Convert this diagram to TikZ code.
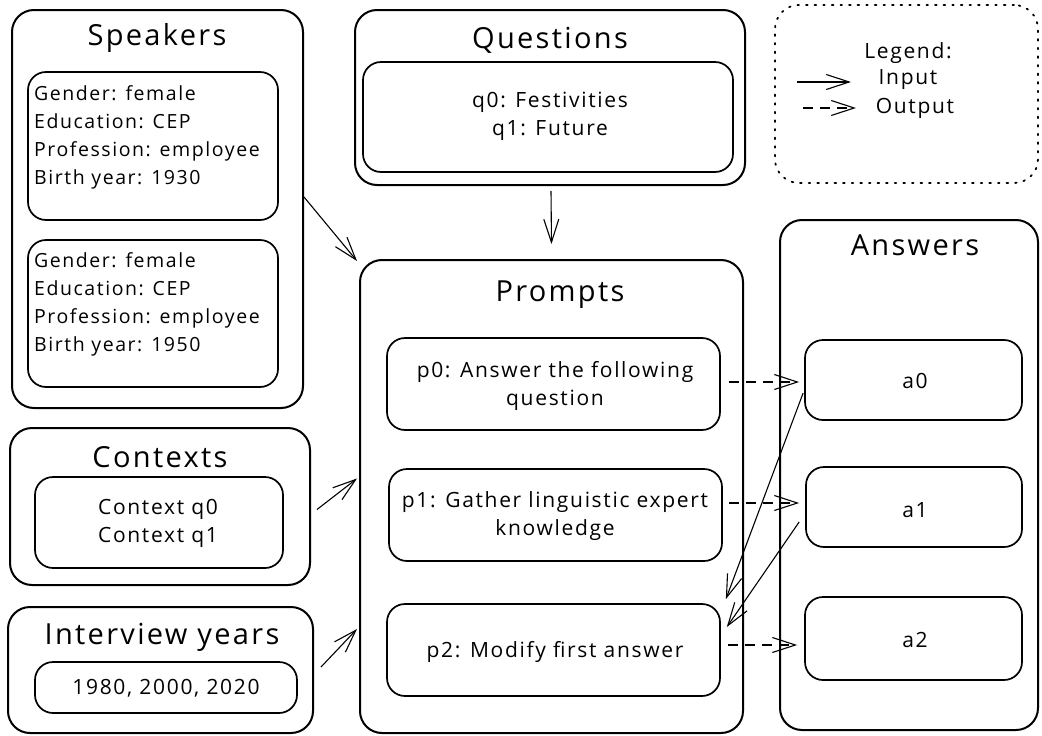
\documentclass[tikz,border=0pt]{standalone}
\usepackage{fontspec}
\setmainfont{Open Sans}[LetterSpace=8]
\usetikzlibrary{arrows.meta}
\tikzset{
  outerbox/.style={draw, line width=2pt, rounded corners=22pt, inner sep=0pt},
  innerbox/.style={draw, line width=1.7pt, rounded corners=18pt, inner sep=0pt},
  legbox/.style={draw, line width=1.8pt, rounded corners=24pt, inner sep=0pt, dash pattern=on 1.6pt off 7pt, line cap=round},
  title/.style={font=\fontsize{29}{32}\selectfont, inner sep=0pt},
  body/.style={font=\fontsize{21}{28}\selectfont, align=center, inner sep=0pt},
  spkbody/.style={font=\fontsize{19.5}{28}\selectfont, align=left, inner sep=0pt, anchor=west},
  inarrow/.style={-{Straight Barb[length=23pt,width=15pt,line width=1.1pt]}, line width=1.1pt},
  outarrow/.style={inarrow, dash pattern=on 10pt off 7pt}
}
\begin{document}
\begin{tikzpicture}[x=1pt,y=-1pt]
\useasboundingbox (0,0) rectangle (1042,736);
% Speakers
\node[outerbox, minimum width=291pt, minimum height=398pt] (spk) at (157.5,209) {};
\node[title] (spkt) at (157,38) {Speakers};
\node[innerbox, minimum width=250pt, minimum height=148pt] (spk1) at (153,146) {};
\node[spkbody] (spk1t) at (34,137) {Gender: female\\Education: CEP\\Profession: employee\\Birth year: 1930};
\node[innerbox, minimum width=250pt, minimum height=147pt] (spk2) at (153,313.5) {};
\node[spkbody] (spk2t) at (34,304) {Gender: female\\Education: CEP\\Profession: employee\\Birth year: 1950};
% Questions
\node[outerbox, minimum width=390pt, minimum height=175pt] (qst) at (550,97.5) {};
\node[title] (qstt) at (550,40) {Questions};
\node[innerbox, minimum width=370pt, minimum height=110pt] (qin) at (548,117) {};
\node[body] (qint) at (550,116) {q0: Festivities\\q1: Future};
% Legend
\node[legbox, minimum width=263pt, minimum height=178pt] (leg) at (906.5,94) {};
\node[body] (legt) at (908,53) {Legend:};
\node[body] (legi) at (908,80) {Input};
\node[body] (lego) at (915,108) {Output};
\coordinate (li1) at (797,82);
\coordinate (li2) at (851,82);
\coordinate (lo1) at (803,108);
\coordinate (lo2) at (856,108);
\draw[inarrow] (li1) -- (li2);
\draw[outarrow] (lo1) -- (lo2);
% Prompts
\node[outerbox, minimum width=383pt, minimum height=473pt] (prm) at (551.5,496.5) {};
\node[title] (prmt) at (560,295) {Prompts};
\node[innerbox, minimum width=333pt, minimum height=92pt] (p0) at (553.5,384) {};
\node[body] (p0t) at (555,386) {p0: Answer the following\\question};
\node[innerbox, minimum width=333pt, minimum height=92pt] (p1) at (555.5,515) {};
\node[body] (p1t) at (555,516) {p1: Gather linguistic expert\\knowledge};
\node[innerbox, minimum width=333pt, minimum height=92pt] (p2) at (553.5,650) {};
\node[body] (p2t) at (555,652) {p2: Modify first answer};
% Answers
\node[outerbox, minimum width=258pt, minimum height=510pt] (ans) at (909,475) {};
\node[title] (anst) at (915,245) {Answers};
\node[innerbox, minimum width=217pt, minimum height=80pt] (a0) at (913.5,380) {};
\node[body] (a0t) at (915,381) {a0};
\node[innerbox, minimum width=216pt, minimum height=80pt] (a1) at (914,507) {};
\node[body] (a1t) at (915,510) {a1};
\node[innerbox, minimum width=217pt, minimum height=83pt] (a2) at (913.5,638.5) {};
\node[body] (a2t) at (915,640) {a2};
% Contexts
\node[outerbox, minimum width=300pt, minimum height=157pt] (ctx) at (160,506.5) {};
\node[title] (ctxt) at (160,457) {Contexts};
\node[innerbox, minimum width=248pt, minimum height=91pt] (ctxin) at (159,522.5) {};
\node[body] (ctxint) at (158,523) {Context q0\\Context q1};
% Interview years
\node[outerbox, minimum width=305pt, minimum height=126pt] (ivy) at (160.5,670) {};
\node[title] (ivyt) at (162,637) {Interview years};
\node[innerbox, minimum width=262pt, minimum height=51pt] (ivyin) at (166,687.5) {};
\node[body] (ivyint) at (166,688) {1980, 2000, 2020};
% Connectors
\draw[inarrow] ([yshift=12pt]spk.east) -- ([xshift=-2pt,yshift=-2pt]prm.north west);
\draw[inarrow] ([xshift=6pt,yshift=-3pt]ctx.east) -- ([xshift=-2pt,yshift=18pt]prm.west);
\draw[inarrow] ([xshift=7pt,yshift=3pt]ivy.east) -- ([xshift=-2pt,yshift=-132.5pt]prm.west);
\draw[inarrow] ([xshift=1pt,yshift=-5pt]qst.south) -- ([yshift=15pt]prm.north);
\draw[outarrow] ([xshift=8pt,yshift=2pt]p0.east) -- ([xshift=-5pt,yshift=-2pt]a0.west);
\draw[outarrow] ([xshift=6pt,yshift=12pt]p1.east) -- ([xshift=-6pt,yshift=4pt]a1.west);
\draw[outarrow] ([xshift=7pt,yshift=5pt]p2.east) -- ([xshift=-7pt,yshift=-6.5pt]a2.west);
\draw[inarrow] ([xshift=-1pt,yshift=-13pt]a0.west) -- ([xshift=5pt,yshift=4pt]p2.north east);
\draw[inarrow] ([xshift=-6pt,yshift=-15pt]a1.west) -- ([xshift=6pt,yshift=23pt]p2.east);
\end{tikzpicture}
\end{document}
